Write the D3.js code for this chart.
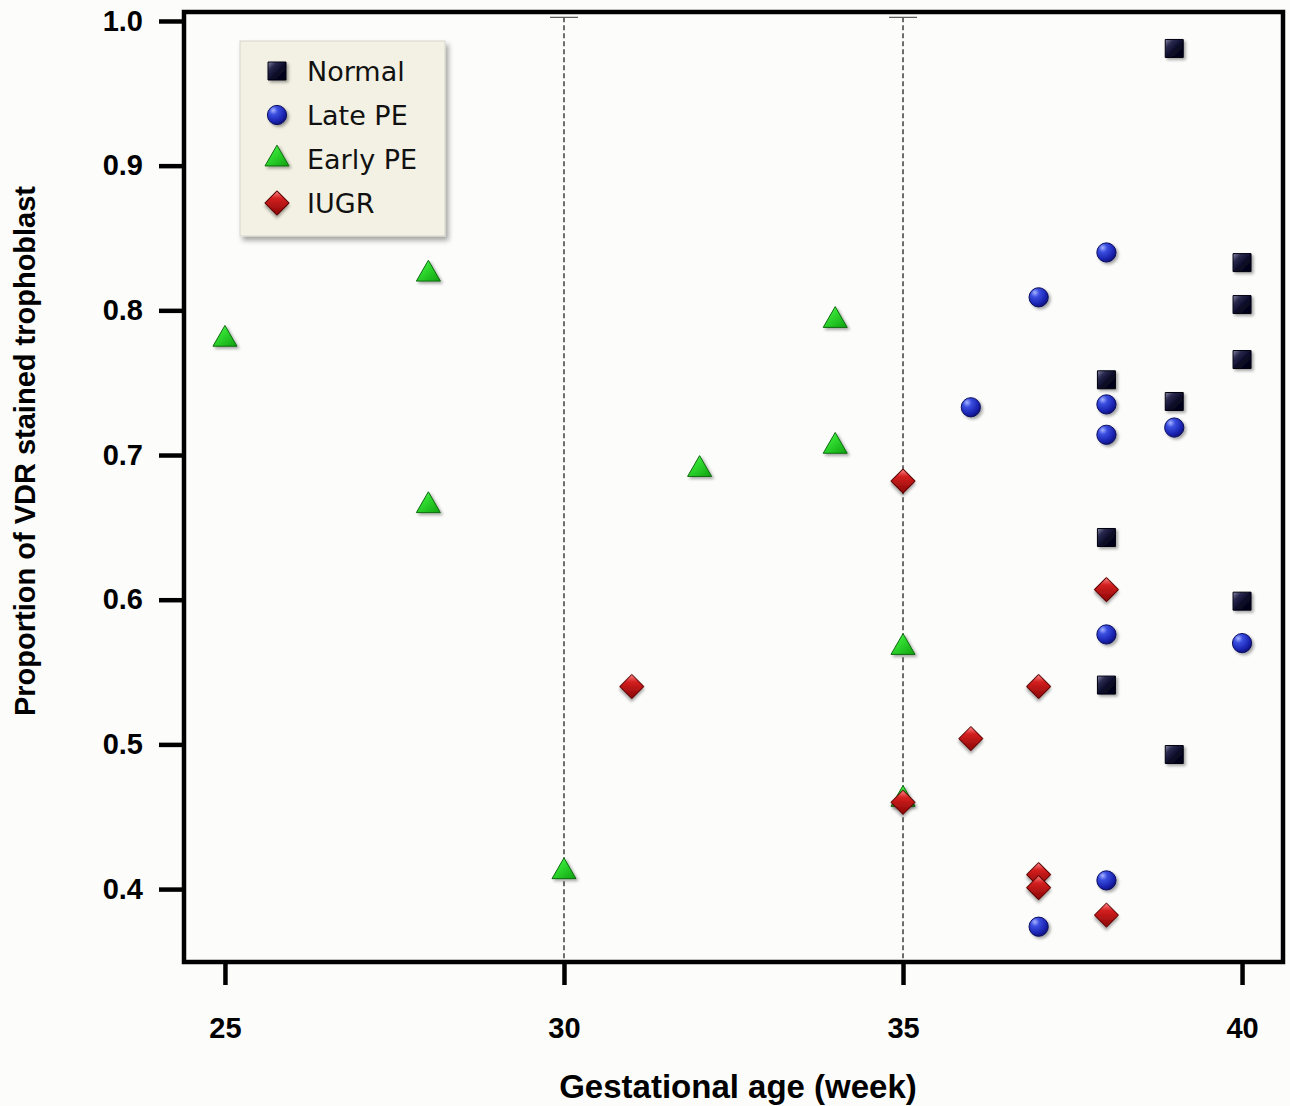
<!DOCTYPE html>
<html><head><meta charset="utf-8">
<script src="https://cdn.jsdelivr.net/npm/d3@7"></script>
<style>html,body{margin:0;padding:0;background:#fcfdfb;}svg{display:block;}</style>
</head><body>
<script>
// ---- data ----
const normalWeeks = [39, 40, 40, 40, 38, 39, 38, 40, 38, 39];
const normalVals  = [0.981, 0.833, 0.804, 0.766, 0.752, 0.737, 0.643, 0.599, 0.541, 0.493];
const latePEWeeks = [38, 37, 36, 38, 38, 39, 38, 40, 38, 37];
const latePEVals  = [0.840, 0.809, 0.733, 0.735, 0.714, 0.719, 0.576, 0.570, 0.406, 0.374];
const earlyPEWeeks = [25, 28, 28, 30, 32, 34, 34, 35, 35];
const earlyPEVals  = [0.780, 0.825, 0.665, 0.412, 0.690, 0.793, 0.706, 0.567, 0.462];
const iugrWeeks = [35, 31, 38, 37, 36, 35, 37, 37, 38];
const iugrVals  = [0.682, 0.540, 0.607, 0.540, 0.504, 0.460, 0.410, 0.401, 0.382];
const seriesNames = ["Normal", "Late PE", "Early PE", "IUGR"];
const xTicks = [25, 30, 35, 40];
const yTicks = [0.4, 0.5, 0.6, 0.7, 0.8, 0.9, 1.0];
const refLineWeeks = [30, 35];
const xTitle = "Gestational age (week)";
const yTitle = "Proportion of VDR stained trophoblast";

const W = 1290, H = 1106;
const L = 184, R = 1283, T = 12, B = 962;
const x = d3.scaleLinear().domain([24.396, 40.604]).range([L, R]);
const y = d3.scaleLinear().domain([0.3496, 1.0062]).range([B, T]);

const svg = d3.select("body").append("svg").attr("width", W).attr("height", H);
svg.append("rect").attr("width", W).attr("height", H).attr("fill", "#fcfdfb");
const defs = svg.append("defs");

const f = defs.append("filter").attr("id", "sh").attr("x", "-50%").attr("y", "-50%").attr("width", "200%").attr("height", "200%");
f.append("feDropShadow").attr("dx", 2).attr("dy", 2).attr("stdDeviation", 1.6).attr("flood-color", "#000").attr("flood-opacity", 0.35);
const f2 = defs.append("filter").attr("id", "lsh").attr("x", "-10%").attr("y", "-10%").attr("width", "130%").attr("height", "130%");
f2.append("feDropShadow").attr("dx", 3).attr("dy", 4).attr("stdDeviation", 2.5).attr("flood-color", "#000").attr("flood-opacity", 0.35);

function radial(id, stops) {
  const g = defs.append("radialGradient").attr("id", id).attr("cx", "35%").attr("cy", "30%").attr("r", "75%").attr("fx", "30%").attr("fy", "25%");
  stops.forEach(s => g.append("stop").attr("offset", s[0]).attr("stop-color", s[1]));
}
function linear(id, stops) {
  const g = defs.append("linearGradient").attr("id", id).attr("x1", "0%").attr("y1", "0%").attr("x2", "100%").attr("y2", "100%");
  stops.forEach(s => g.append("stop").attr("offset", s[0]).attr("stop-color", s[1]));
}
radial("gCircle", [["0%", "#a8b4ff"], ["30%", "#3a4ee0"], ["75%", "#1a23b0"], ["100%", "#0c1070"]]);
linear("gSquare", [["0%", "#8a8aa8"], ["25%", "#2a2a50"], ["55%", "#0a0a28"], ["100%", "#000010"]]);
linear("gTri", [["0%", "#aaffaa"], ["35%", "#33e033"], ["100%", "#10a010"]]);
linear("gDiam", [["0%", "#ff8a8a"], ["30%", "#d42020"], ["100%", "#8a0505"]]);

const styles = {
  "Normal":   {sym: d3.symbolSquare, size: 324, rot: 0, fill: "url(#gSquare)", stroke: "#000010"},
  "Late PE":  {sym: d3.symbolCircle, size: 290, rot: 0, fill: "url(#gCircle)", stroke: "#0a0e60"},
  "Early PE": {sym: d3.symbolTriangle, size: 250, rot: 0, fill: "url(#gTri)", stroke: "#0c6a0c"},
  "IUGR":     {sym: d3.symbolSquare, size: 290, rot: 45, fill: "url(#gDiam)", stroke: "#5a0000"}
};
const series = [
  {name: "Normal", w: normalWeeks, v: normalVals},
  {name: "Late PE", w: latePEWeeks, v: latePEVals},
  {name: "Early PE", w: earlyPEWeeks, v: earlyPEVals},
  {name: "IUGR", w: iugrWeeks, v: iugrVals}
];

// dashed reference lines
refLineWeeks.forEach(wk => {
  svg.append("line").attr("x1", x(wk)).attr("x2", x(wk)).attr("y1", y(1.0025)).attr("y2", B)
    .attr("stroke", "#222").attr("stroke-width", 1.3).attr("stroke-dasharray", "5,3");
  svg.append("line").attr("x1", x(wk) - 14).attr("x2", x(wk) + 14).attr("y1", y(1.0025)).attr("y2", y(1.0025))
    .attr("stroke", "#555").attr("stroke-width", 1.2);
});

// frame
svg.append("rect").attr("x", L).attr("y", T).attr("width", R - L).attr("height", B - T)
  .attr("fill", "none").attr("stroke", "#000").attr("stroke-width", 4.5);

// axes
const yAxis = svg.append("g").attr("transform", `translate(${L},0)`)
  .call(d3.axisLeft(y).tickValues(yTicks).tickFormat(d3.format(".1f")).tickSize(25).tickPadding(16));
const xAxis = svg.append("g").attr("transform", `translate(0,${B})`)
  .call(d3.axisBottom(x).tickValues(xTicks).tickFormat(d3.format("d")).tickSize(23).tickPadding(32));
[yAxis, xAxis].forEach(a => {
  a.select(".domain").remove();
  a.selectAll(".tick line").attr("stroke", "#000").attr("stroke-width", 4.5);
  a.selectAll(".tick text").attr("fill", "#000").attr("font-family", "Liberation Sans, Arial, sans-serif")
    .attr("font-weight", "bold").attr("font-size", 29);
});

// points
series.forEach(s => {
  const st = styles[s.name];
  const pts = s.w.map((w, i) => ({w, v: s.v[i]}));
  svg.append("g").selectAll("path").data(pts).join("path")
    .attr("d", d3.symbol().type(st.sym).size(st.size))
    .attr("transform", d => `translate(${x(d.w)},${y(d.v)}) rotate(${st.rot})`)
    .attr("fill", st.fill).attr("stroke", st.stroke).attr("stroke-width", 1)
    .attr("filter", "url(#sh)");
});

// legend
const lg = svg.append("g").attr("transform", "translate(240,41)");
lg.append("rect").attr("width", 205).attr("height", 195).attr("fill", "#f3f1e3").attr("stroke", "#d8d6cc").attr("stroke-width", 1).attr("filter", "url(#lsh)");
seriesNames.forEach((n, i) => {
  const st = styles[n];
  const cy = 30 + i * 44;
  lg.append("path").attr("d", d3.symbol().type(st.sym).size(st.size))
    .attr("transform", `translate(37,${cy}) rotate(${st.rot})`)
    .attr("fill", st.fill).attr("stroke", st.stroke).attr("stroke-width", 1).attr("filter", "url(#sh)");
  lg.append("text").attr("x", 67).attr("y", cy).attr("dy", "0.36em")
    .attr("font-family", "'DejaVu Sans', sans-serif").attr("font-size", 27).attr("fill", "#111").text(n);
});

// titles
svg.append("text").attr("x", 738).attr("y", 1098).attr("text-anchor", "middle")
  .attr("font-family", "Liberation Sans, Arial, sans-serif").attr("font-weight", "bold").attr("font-size", 33).text(xTitle);
svg.append("text").attr("transform", "translate(35,451) rotate(-90)").attr("text-anchor", "middle")
  .attr("font-family", "Liberation Sans, Arial, sans-serif").attr("font-weight", "bold").attr("font-size", 29).text(yTitle);
</script>
</body></html>
